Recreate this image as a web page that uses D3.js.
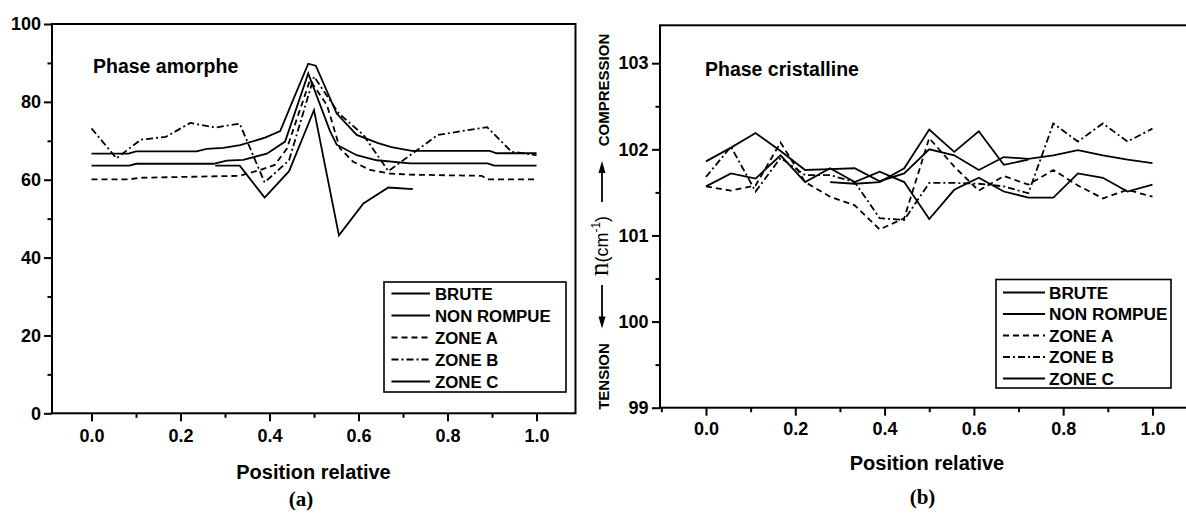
<!DOCTYPE html>
<html><head><meta charset="utf-8">
<script src="https://cdn.jsdelivr.net/npm/d3@7"></script>
<style>
body{margin:0;background:#fff}
svg{display:block}
text{font-family:"Liberation Sans",Arial,Helvetica,sans-serif;fill:#000}
</style>
</head><body>
<svg id="c" width="1186" height="517"></svg>
<script>
// ---------- DATA ----------
const seriesNames = ["BRUTE", "NON ROMPUE", "ZONE A", "ZONE B", "ZONE C"];
const dashStyles = [null, null, "6,4", "7,3,2,3", null];

const gridX = [0, 0.056, 0.111, 0.167, 0.222, 0.278, 0.333, 0.389, 0.444, 0.5, 0.556, 0.611, 0.667, 0.722, 0.778, 0.833, 0.889, 0.944, 1.0];
const zoneCX = [0.278, 0.333, 0.389, 0.444, 0.5, 0.556, 0.611, 0.667, 0.722];

// (a) Phase amorphe
const leftBrute = [[0,66.7],[0.083,66.7],[0.1,67.3],[0.236,67.3],[0.259,67.9],[0.296,68.2],[0.334,68.9],[0.39,70.8],[0.424,72.5],[0.453,80.5],[0.487,89.8],[0.504,89.3],[0.551,77],[0.596,71.5],[0.644,69.4],[0.674,68.4],[0.72,67.4],[0.895,67.4],[0.91,66.8],[1.0,66.8]];
const leftNonRompue = [[0,63.6],[0.085,63.6],[0.101,64.1],[0.274,64.1],[0.304,64.9],[0.341,65.1],[0.394,66.7],[0.435,69.8],[0.487,87.3],[0.536,72.5],[0.551,69],[0.596,66.3],[0.641,65.0],[0.716,64.2],[0.89,64.2],[0.905,63.6],[1.0,63.6]];
const leftZoneA = [[0,60.1],[0.085,60.1],[0.108,60.5],[0.333,61.0],[0.379,62.5],[0.412,63.8],[0.439,68],[0.491,85.6],[0.529,79.2],[0.558,68.1],[0.588,64.6],[0.626,62.5],[0.67,61.6],[0.716,61.3],[0.877,61.0],[0.89,60.1],[1.0,60.1]];
const leftZoneBVals = [73.2, 65.5, 70.3, 71.0, 74.6, 73.4, 74.4, 59.3, 65.0, 86.5, 77.0, 71.5, 62.2, 66.8, 71.5, 72.5, 73.5, 67.2, 66.3];
const leftZoneCVals = [63.6, 63.6, 55.4, 62.2, 77.9, 45.7, 53.9, 58.0, 57.6];

// (b) Phase cristalline
const rightBruteVals = [101.86, 102.02, 102.19, 101.98, 101.76, 101.77, 101.78, 101.63, 101.72, 102.0, 101.93, 101.76, 101.91, 101.89, 101.93, 101.99, 101.93, 101.88, 101.84];
const rightNonRompueVals = [101.57, 101.72, 101.66, 101.93, 101.62, 101.78, 101.62, 101.74, 101.62, 101.19, 101.53, 101.67, 101.51, 101.44, 101.44, 101.72, 101.67, 101.51, 101.59];
const rightZoneAVals = [101.57, 101.52, 101.58, 102.08, 101.62, 101.45, 101.35, 101.07, 101.2, 102.13, 101.8, 101.52, 101.69, 101.59, 101.76, 101.58, 101.43, 101.53, 101.45];
const rightZoneBVals = [101.68, 102.03, 101.51, 101.9, 101.7, 101.7, 101.62, 101.2, 101.18, 101.61, 101.61, 101.6, 101.57, 101.49, 102.3, 102.09, 102.3, 102.09, 102.24];
const rightZoneCVals = [101.62, 101.6, 101.62, 101.78, 102.23, 101.97, 102.21, 101.82, 101.88];

const xTicks = [0, 0.2, 0.4, 0.6, 0.8, 1.0];
const xMinorTicks = [-0.1, 0.1, 0.3, 0.5, 0.7, 0.9];
const leftYTicks = [0, 20, 40, 60, 80, 100];
const leftYMinor = [10, 30, 50, 70, 90];
const rightYTicks = [99, 100, 101, 102, 103];
const rightYMinor = [99.5, 100.5, 101.5, 102.5];

const zip = (xs, vs) => xs.map((x, i) => [x, vs[i]]);

// ---------- DRAW ----------
const svg = d3.select("#c");

function panel(o) {
  const x = d3.scaleLinear().domain(o.xDomain).range([o.left, o.right]);
  const y = d3.scaleLinear().domain(o.yDomain).range([o.bottom, o.top]);
  const g = svg.append("g");

  const clipId = "clip" + o.id;
  svg.append("clipPath").attr("id", clipId).append("rect")
    .attr("x", o.left).attr("y", o.top).attr("width", o.right - o.left).attr("height", o.bottom - o.top);

  const line = d3.line().x(d => x(d[0])).y(d => y(d[1]));
  const lg = g.append("g").attr("clip-path", `url(#${clipId})`);
  o.series.forEach((s, i) => {
    lg.append("path").attr("d", line(s)).attr("fill", "none").attr("stroke", "#000")
      .attr("stroke-width", 1.8).attr("stroke-linejoin", "miter")
      .attr("stroke-dasharray", dashStyles[i]);
  });

  g.append("rect").attr("x", o.left).attr("y", o.top)
    .attr("width", o.right - o.left).attr("height", o.bottom - o.top)
    .attr("fill", "none").attr("stroke", "#000").attr("stroke-width", 2);

  const xMinor = xMinorTicks.filter(v => v >= o.xDomain[0] && v <= o.xDomain[1]);
  const styleAxis = sel => {
    sel.select(".domain").remove();
    sel.selectAll(".tick line").attr("stroke", "#000").attr("stroke-width", 2);
    sel.selectAll(".tick text").style("font-weight", "bold").attr("fill", "#000");
  };

  g.append("g").attr("transform", `translate(0,${o.bottom})`)
    .call(d3.axisBottom(x).tickValues(xTicks).tickSize(8).tickPadding(o.xPad).tickFormat(d3.format(".1f")))
    .call(styleAxis).selectAll(".tick text").style("font-size", "18px");
  g.append("g").attr("transform", `translate(0,${o.bottom})`)
    .call(d3.axisBottom(x).tickValues(xMinor).tickSize(4.5).tickFormat(""))
    .call(styleAxis);

  g.append("g").attr("transform", `translate(${o.left},0)`)
    .call(d3.axisLeft(y).tickValues(o.yTicks).tickSize(8).tickPadding(o.yPad).tickFormat(d3.format("d")))
    .call(styleAxis).selectAll(".tick text").style("font-size", "18px");
  g.append("g").attr("transform", `translate(${o.left},0)`)
    .call(d3.axisLeft(y).tickValues(o.yMinor).tickSize(4.5).tickFormat(""))
    .call(styleAxis);

  g.append("text").attr("x", o.titleX).attr("y", o.titleY).text(o.title)
    .style("font-size", "19.5px").style("font-weight", "bold");

  g.append("text").attr("x", o.xLabelX).attr("y", o.xLabelY).attr("text-anchor", "middle")
    .text("Position relative").style("font-size", "20px").style("font-weight", "bold");

  g.append("text").attr("x", o.letterX).attr("y", o.letterY).attr("text-anchor", "middle")
    .text(o.letter).style("font-family", "'Liberation Serif','Times New Roman',serif")
    .style("font-size", "21px").style("font-weight", "bold");

  const L = o.legend;
  const leg = g.append("g");
  leg.append("rect").attr("x", L.x).attr("y", L.y).attr("width", L.w).attr("height", L.h)
    .attr("fill", "#fff").attr("stroke", "#000").attr("stroke-width", 1.6);
  seriesNames.forEach((name, i) => {
    const yy = L.firstRow + i * L.rowStep;
    leg.append("line").attr("x1", L.lineX1).attr("x2", L.lineX2).attr("y1", yy).attr("y2", yy)
      .attr("stroke", "#000").attr("stroke-width", 1.8).attr("stroke-dasharray", dashStyles[i]);
    leg.append("text").attr("x", L.textX).attr("y", yy + 6).text(name)
      .style("font-size", L.fs + "px").style("font-weight", "bold");
  });
  return {x, y, g};
}

panel({
  id: "a", left: 52, right: 575.5, top: 24, bottom: 413.3,
  xDomain: [-0.0888, 1.0876], yDomain: [0, 100],
  yTicks: leftYTicks, yMinor: leftYMinor, xPad: 8, yPad: 3,
  series: [leftBrute, leftNonRompue, leftZoneA, zip(gridX, leftZoneBVals), zip(zoneCX, leftZoneCVals)],
  title: "Phase amorphe", titleX: 93, titleY: 73,
  xLabelX: 313.5, xLabelY: 478.5, letter: "(a)", letterX: 301, letterY: 506,
  legend: {x: 384, y: 282, w: 182, h: 110, firstRow: 293.5, rowStep: 22,
           lineX1: 391.5, lineX2: 430, textX: 435, fs: 16.8}
});

panel({
  id: "b", left: 660, right: 1196, top: 25.3, bottom: 407.7,
  xDomain: [-0.103, 1.0975], yDomain: [99, 103.44],
  yTicks: rightYTicks, yMinor: rightYMinor, xPad: 7, yPad: 3.5,
  series: [zip(gridX, rightBruteVals), zip(gridX, rightNonRompueVals), zip(gridX, rightZoneAVals),
           zip(gridX, rightZoneBVals), zip(zoneCX, rightZoneCVals)],
  title: "Phase cristalline", titleX: 705, titleY: 76,
  xLabelX: 927, xLabelY: 470, letter: "(b)", letterX: 922.5, letterY: 504,
  legend: {x: 996, y: 279.5, w: 175, h: 108.5, firstRow: 292.5, rowStep: 21.5,
           lineX1: 1003, lineX2: 1045, textX: 1049, fs: 17.2}
});

// right y-axis compound label
const yl = svg.append("g");
const rot = (txt, cx, cy, fs) => yl.append("text")
  .attr("transform", `translate(${cx},${cy}) rotate(-90)`).attr("text-anchor", "middle")
  .style("font-size", fs + "px").style("font-weight", "bold").text(txt);
rot("COMPRESSION", 608.5, 90, 15);
rot("TENSION", 609, 376.5, 15);

const nl = yl.append("text").attr("transform", "translate(607.5,246) rotate(-90)").attr("text-anchor", "middle");
nl.append("tspan").text("n").style("font-family", "'Liberation Serif','Times New Roman',serif").style("font-size", "27px");
nl.append("tspan").text("(cm").style("font-size", "18px");
nl.append("tspan").text("-1").attr("dy", -8).style("font-size", "12px");
nl.append("tspan").text(")").attr("dy", 8).style("font-size", "18px");

// arrows
yl.append("line").attr("x1", 602).attr("x2", 602).attr("y1", 202).attr("y2", 170).attr("stroke", "#000").attr("stroke-width", 1.8);
yl.append("path").attr("d", "M602,161 L598.5,173 L605.5,173 Z").attr("fill", "#000");
yl.append("line").attr("x1", 602).attr("x2", 602).attr("y1", 285).attr("y2", 318).attr("stroke", "#000").attr("stroke-width", 1.8);
yl.append("path").attr("d", "M602,328.5 L598.5,316.5 L605.5,316.5 Z").attr("fill", "#000");
</script>
</body></html>
